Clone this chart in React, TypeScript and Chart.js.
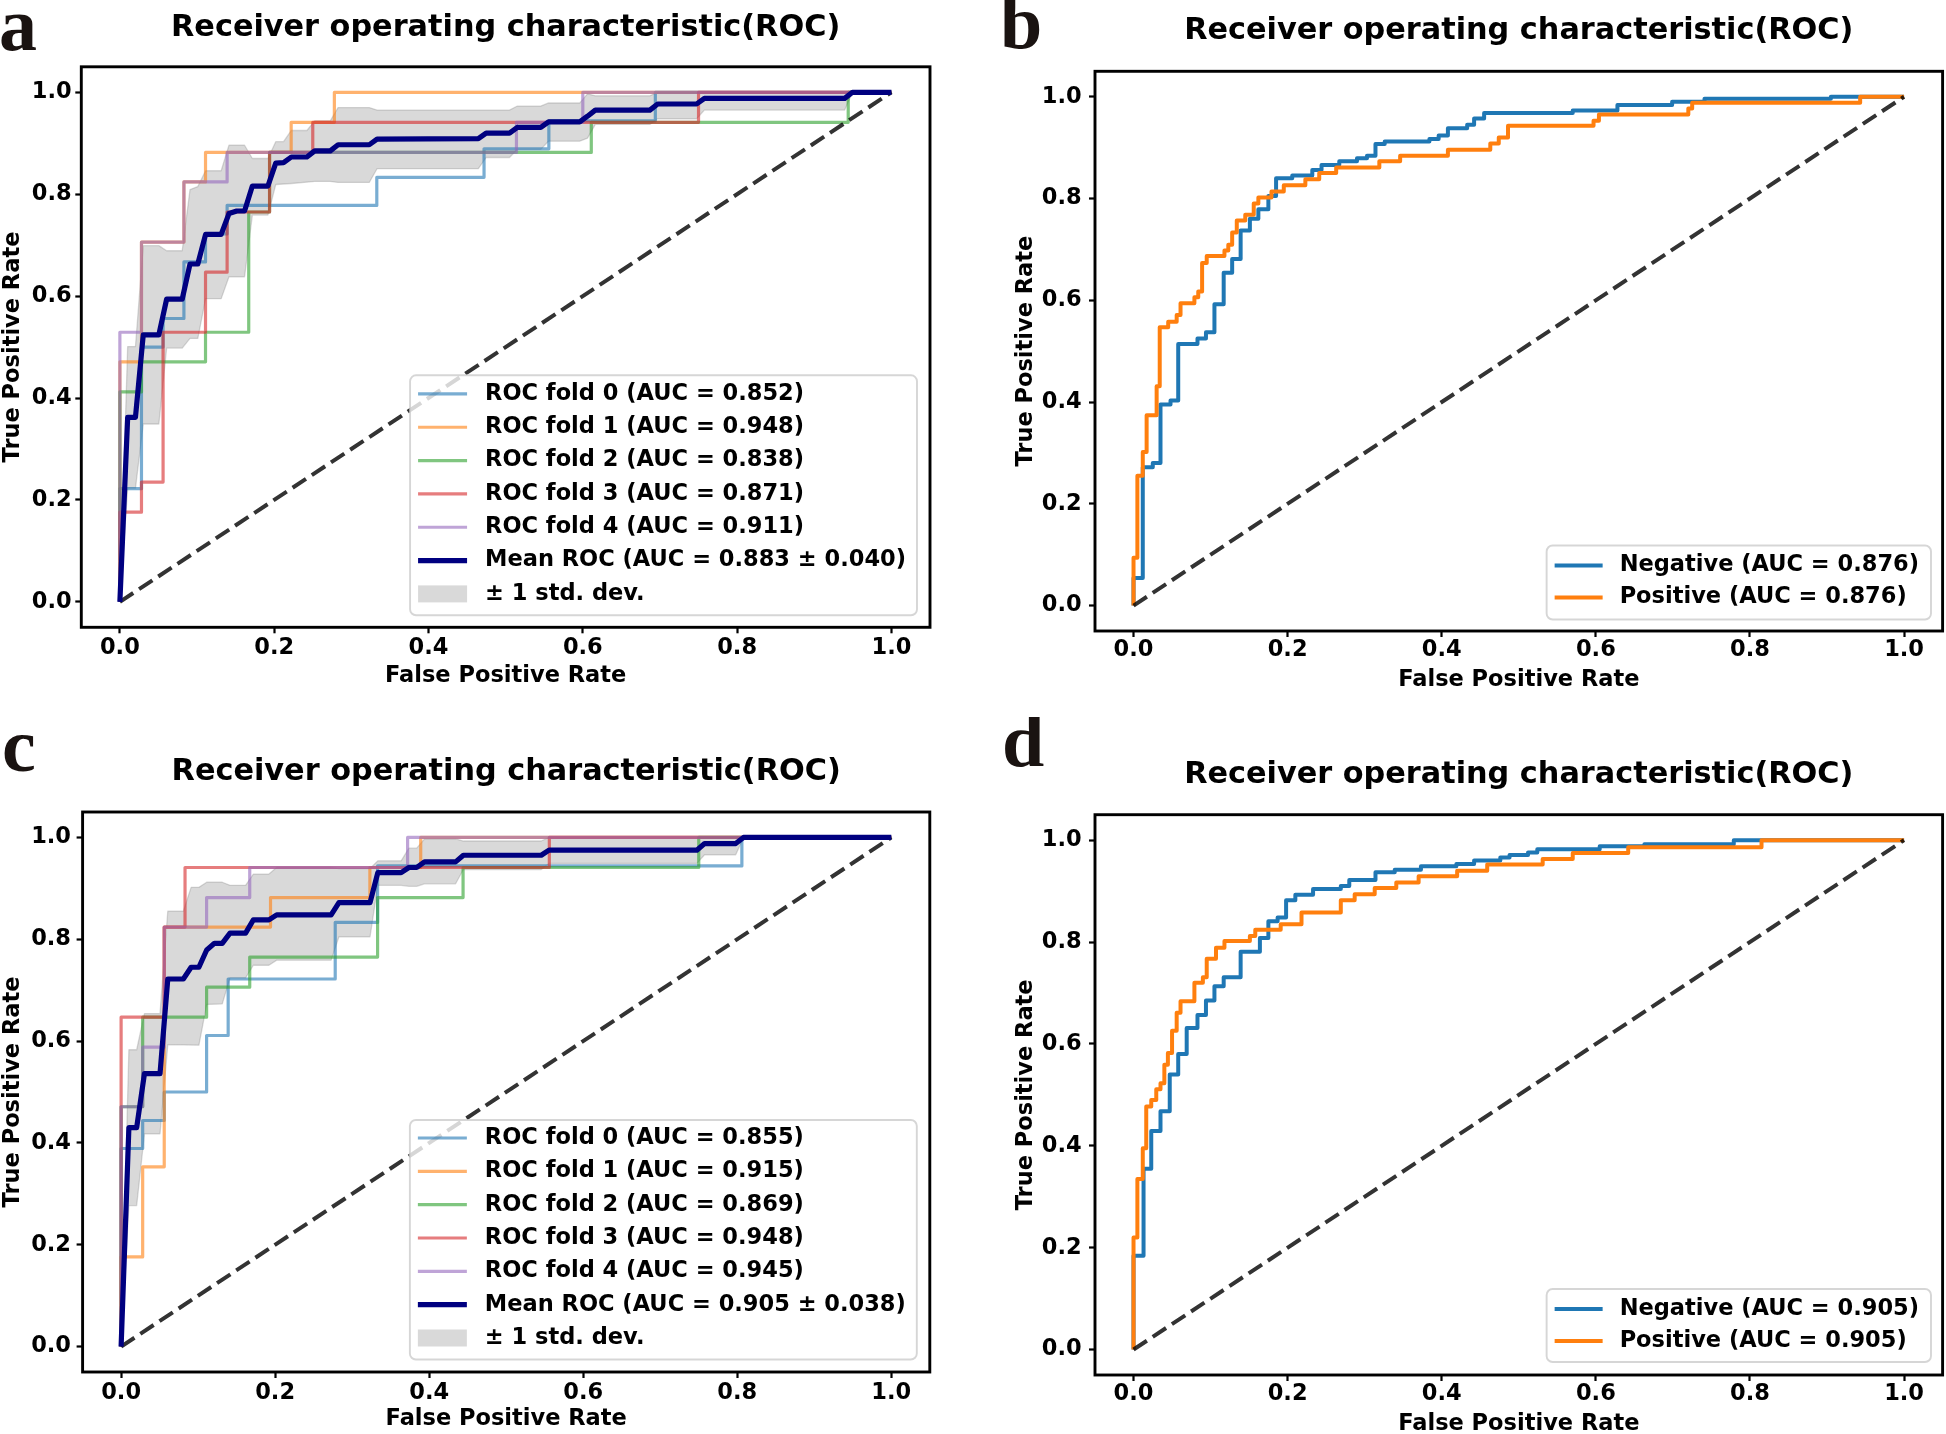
import React, { useEffect, useRef } from 'react';
import { Chart, registerables } from 'chart.js';

Chart.register(...registerables);

// ---------------- text ----------------
const TITLE_TEXT = 'Receiver operating characteristic(ROC)';
const X_AXIS_TITLE = 'False Positive Rate';
const Y_AXIS_TITLE = 'True Positive Rate';
const AXIS_TICKS = [0, 0.2, 0.4, 0.6, 0.8, 1.0];
const STD_LABEL = '± 1 std. dev.';

// ---------------- panel a (cross-validation folds) ----------------
const A_FOLD_LABELS = [
  'ROC fold 0 (AUC = 0.852)',
  'ROC fold 1 (AUC = 0.948)',
  'ROC fold 2 (AUC = 0.838)',
  'ROC fold 3 (AUC = 0.871)',
  'ROC fold 4 (AUC = 0.911)',
];
const A_MEAN_LABEL = 'Mean ROC (AUC = 0.883 ± 0.040)';
// staircase folds: FPR at which TPR steps up, and the TPR reached there
const A_F0_FPR = [0, 0.028, 0.056, 0.083, 0.111, 0.139, 0.333, 0.472, 0.556, 0.694];
const A_F0_TPR = [0.222, 0.5, 0.556, 0.667, 0.722, 0.778, 0.833, 0.889, 0.944, 1];
const A_F1_FPR = [0, 0.028, 0.083, 0.111, 0.222, 0.278];
const A_F1_TPR = [0.471, 0.706, 0.824, 0.882, 0.941, 1];
const A_F2_FPR = [0, 0.028, 0.111, 0.167, 0.194, 0.611, 0.944];
const A_F2_TPR = [0.412, 0.471, 0.529, 0.765, 0.882, 0.941, 1];
const A_F3_FPR = [0, 0.028, 0.056, 0.111, 0.139, 0.194, 0.25, 0.75];
const A_F3_TPR = [0.176, 0.235, 0.529, 0.647, 0.765, 0.882, 0.941, 1];
const A_F4_FPR = [0, 0.028, 0.083, 0.139, 0.514, 0.6];
const A_F4_TPR = [0.529, 0.706, 0.824, 0.882, 0.941, 1];
const A_MEAN_FPR = [0, 0.0101, 0.0202, 0.0303, 0.0505, 0.0606, 0.0808, 0.0909, 0.101, 0.1111, 0.1313, 0.1414, 0.1515, 0.1616, 0.1717, 0.1919, 0.202, 0.2121, 0.2222, 0.2424, 0.2525, 0.2727, 0.2828, 0.3232, 0.3333, 0.4646, 0.4747, 0.505, 0.5152, 0.5455, 0.5556, 0.596, 0.6061, 0.6162, 0.6869, 0.697, 0.7475, 0.7576, 0.9394, 0.9495, 1];
const A_MEAN_TPR = [0, 0.362, 0.362, 0.524, 0.524, 0.594, 0.594, 0.663, 0.663, 0.721, 0.721, 0.762, 0.767, 0.767, 0.816, 0.816, 0.861, 0.862, 0.873, 0.873, 0.885, 0.885, 0.897, 0.897, 0.908, 0.909, 0.92, 0.92, 0.931, 0.931, 0.942, 0.942, 0.953, 0.965, 0.965, 0.977, 0.977, 0.988, 0.988, 1, 1];
const A_UPPER_FPR = [0, 0.0101, 0.0202, 0.0303, 0.0505, 0.0606, 0.0808, 0.0909, 0.101, 0.1111, 0.1313, 0.1414, 0.1616, 0.1717, 0.1919, 0.202, 0.2121, 0.2222, 0.2424, 0.2525, 0.2727, 0.2828, 0.3232, 0.3333, 0.4646, 0.4747, 0.505, 0.5152, 0.5455, 0.5556, 0.596, 0.6061, 0.6162, 0.6869, 0.697, 1];
const A_UPPER_TPR = [0, 0.501, 0.501, 0.699, 0.699, 0.689, 0.689, 0.809, 0.815, 0.846, 0.846, 0.896, 0.896, 0.87, 0.87, 0.903, 0.903, 0.925, 0.925, 0.944, 0.944, 0.97, 0.97, 0.965, 0.965, 0.965, 0.965, 0.973, 0.973, 0.979, 0.979, 0.997, 0.993, 0.993, 1, 1];
const A_LOWER_FPR = [0, 0.0101, 0.0202, 0.0303, 0.0505, 0.0606, 0.0808, 0.0909, 0.101, 0.1111, 0.1313, 0.1414, 0.1616, 0.1717, 0.1919, 0.202, 0.2222, 0.2525, 0.2727, 0.2828, 0.3232, 0.3333, 0.4646, 0.4747, 0.505, 0.5152, 0.5455, 0.5556, 0.596, 0.6061, 0.6162, 0.6869, 0.697, 0.7475, 0.7576, 0.9394, 0.9495, 1];
const A_LOWER_TPR = [0, 0.223, 0.223, 0.349, 0.349, 0.498, 0.498, 0.517, 0.517, 0.595, 0.595, 0.638, 0.638, 0.759, 0.759, 0.819, 0.821, 0.825, 0.825, 0.823, 0.823, 0.85, 0.85, 0.872, 0.872, 0.888, 0.888, 0.904, 0.904, 0.91, 0.937, 0.937, 0.948, 0.948, 0.965, 0.965, 1, 1];

// ---------------- panel b ----------------
const B_NEG_LABEL = 'Negative (AUC = 0.876)';
const B_POS_LABEL = 'Positive (AUC = 0.876)';
const B_NEG_FPR = [0, 0.012, 0.025, 0.035, 0.048, 0.058, 0.083, 0.094, 0.105, 0.117, 0.128, 0.139, 0.151, 0.162, 0.175, 0.185, 0.206, 0.232, 0.244, 0.267, 0.29, 0.303, 0.314, 0.326, 0.384, 0.396, 0.408, 0.433, 0.442, 0.455, 0.57, 0.628, 0.699, 0.741, 0.905];
const B_NEG_TPR = [0.054, 0.272, 0.28, 0.395, 0.403, 0.514, 0.525, 0.537, 0.592, 0.654, 0.681, 0.737, 0.76, 0.779, 0.805, 0.84, 0.845, 0.856, 0.866, 0.873, 0.879, 0.884, 0.907, 0.912, 0.917, 0.924, 0.938, 0.945, 0.957, 0.968, 0.973, 0.984, 0.99, 0.996, 1];
const B_POS_FPR = [0, 0.005, 0.012, 0.017, 0.03, 0.034, 0.045, 0.056, 0.061, 0.079, 0.084, 0.089, 0.095, 0.118, 0.123, 0.128, 0.134, 0.145, 0.156, 0.162, 0.179, 0.195, 0.223, 0.241, 0.263, 0.319, 0.346, 0.408, 0.463, 0.474, 0.486, 0.597, 0.604, 0.72, 0.725, 0.943];
const B_POS_TPR = [0.094, 0.255, 0.302, 0.374, 0.431, 0.547, 0.558, 0.571, 0.594, 0.606, 0.617, 0.673, 0.687, 0.698, 0.709, 0.733, 0.757, 0.768, 0.79, 0.802, 0.814, 0.826, 0.838, 0.85, 0.861, 0.873, 0.884, 0.896, 0.908, 0.92, 0.943, 0.953, 0.965, 0.977, 0.988, 1];

// ---------------- panel c (cross-validation folds) ----------------
const C_FOLD_LABELS = [
  'ROC fold 0 (AUC = 0.855)',
  'ROC fold 1 (AUC = 0.915)',
  'ROC fold 2 (AUC = 0.869)',
  'ROC fold 3 (AUC = 0.948)',
  'ROC fold 4 (AUC = 0.945)',
];
const C_MEAN_LABEL = 'Mean ROC (AUC = 0.905 ± 0.038)';
const C_F0_FPR = [0, 0.028, 0.056, 0.111, 0.139, 0.278, 0.333, 0.806];
const C_F0_TPR = [0.389, 0.444, 0.5, 0.611, 0.722, 0.833, 0.944, 1];
const C_F1_FPR = [0, 0.028, 0.056, 0.194, 0.323, 0.389];
const C_F1_TPR = [0.176, 0.353, 0.824, 0.882, 0.941, 1];
const C_F2_FPR = [0, 0.028, 0.111, 0.167, 0.333, 0.444, 0.75];
const C_F2_TPR = [0.471, 0.647, 0.706, 0.765, 0.882, 0.941, 1];
const C_F3_FPR = [0, 0.056, 0.083, 0.556];
const C_F3_TPR = [0.647, 0.824, 0.941, 1];
const C_F4_FPR = [0, 0.028, 0.056, 0.111, 0.167, 0.372];
const C_F4_TPR = [0.471, 0.588, 0.824, 0.882, 0.941, 1];
const C_MEAN_FPR = [0, 0.0101, 0.0202, 0.0303, 0.0505, 0.0606, 0.0808, 0.0909, 0.101, 0.1111, 0.1212, 0.1313, 0.1414, 0.1616, 0.1717, 0.1919, 0.202, 0.2727, 0.2828, 0.3232, 0.3333, 0.3636, 0.3737, 0.3838, 0.3939, 0.4343, 0.4444, 0.5455, 0.5556, 0.7475, 0.7576, 0.798, 0.8081, 1];
const C_MEAN_TPR = [0, 0.43, 0.43, 0.536, 0.536, 0.722, 0.722, 0.745, 0.745, 0.779, 0.792, 0.792, 0.812, 0.812, 0.838, 0.838, 0.848, 0.848, 0.872, 0.872, 0.931, 0.931, 0.941, 0.941, 0.952, 0.952, 0.965, 0.965, 0.975, 0.975, 0.988, 0.988, 1, 1];
const C_UPPER_FPR = [0, 0.0101, 0.0202, 0.0303, 0.0505, 0.0606, 0.0808, 0.0909, 0.101, 0.1111, 0.1313, 0.1414, 0.1616, 0.1717, 0.1919, 0.202, 0.2727, 0.2828, 0.3232, 0.3333, 0.3636, 0.3737, 0.3838, 0.3939, 0.4343, 0.4444, 0.5455, 0.5556, 1];
const C_UPPER_TPR = [0, 0.583, 0.583, 0.654, 0.654, 0.855, 0.855, 0.902, 0.902, 0.912, 0.912, 0.906, 0.906, 0.928, 0.928, 0.941, 0.941, 0.939, 0.939, 0.954, 0.954, 0.979, 0.979, 0.997, 0.997, 0.993, 0.993, 1, 1];
const C_LOWER_FPR = [0, 0.0101, 0.0202, 0.0303, 0.0505, 0.0606, 0.101, 0.1111, 0.1313, 0.1414, 0.1616, 0.1717, 0.1919, 0.202, 0.2727, 0.2828, 0.3232, 0.3333, 0.3636, 0.3737, 0.3838, 0.3939, 0.4343, 0.4444, 0.5455, 0.5556, 0.7475, 0.7576, 0.798, 0.8081, 1];
const C_LOWER_TPR = [0, 0.277, 0.277, 0.418, 0.418, 0.593, 0.592, 0.672, 0.673, 0.724, 0.724, 0.749, 0.749, 0.759, 0.759, 0.805, 0.805, 0.906, 0.906, 0.904, 0.904, 0.909, 0.909, 0.937, 0.937, 0.949, 0.949, 0.966, 0.966, 1, 1];

// ---------------- panel d ----------------
const D_NEG_LABEL = 'Negative (AUC = 0.905)';
const D_POS_LABEL = 'Positive (AUC = 0.905)';
const D_NEG_FPR = [0, 0.013, 0.023, 0.035, 0.047, 0.058, 0.069, 0.083, 0.094, 0.105, 0.117, 0.139, 0.164, 0.175, 0.187, 0.198, 0.21, 0.233, 0.269, 0.28, 0.314, 0.339, 0.373, 0.419, 0.442, 0.476, 0.488, 0.512, 0.524, 0.605, 0.663, 0.779];
const D_NEG_TPR = [0.184, 0.355, 0.429, 0.468, 0.54, 0.58, 0.631, 0.657, 0.685, 0.713, 0.731, 0.781, 0.808, 0.841, 0.848, 0.882, 0.893, 0.904, 0.91, 0.922, 0.937, 0.942, 0.949, 0.953, 0.96, 0.966, 0.971, 0.976, 0.982, 0.988, 0.992, 1];
const D_POS_FPR = [0, 0.005, 0.012, 0.0165, 0.023, 0.0295, 0.035, 0.04, 0.0446, 0.05, 0.056, 0.061, 0.079, 0.09, 0.095, 0.107, 0.118, 0.151, 0.158, 0.191, 0.218, 0.269, 0.287, 0.313, 0.341, 0.37, 0.42, 0.459, 0.531, 0.57, 0.642, 0.815];
const D_POS_TPR = [0.22, 0.335, 0.395, 0.477, 0.49, 0.511, 0.523, 0.559, 0.582, 0.626, 0.661, 0.684, 0.72, 0.731, 0.767, 0.789, 0.802, 0.812, 0.824, 0.835, 0.858, 0.882, 0.894, 0.906, 0.917, 0.929, 0.94, 0.952, 0.963, 0.975, 0.986, 1];

const CHANCE_FPR = [0, 1];
const CHANCE_TPR = [0, 1];

// ---------------- styles ----------------
const FAMILY = '"DejaVu Sans", "Liberation Sans", sans-serif';
const FS = 22.5;
const FOLD_COLORS = ['rgba(31,119,180,0.6)', 'rgba(255,127,14,0.6)', 'rgba(44,160,44,0.6)', 'rgba(214,39,40,0.6)', 'rgba(148,103,189,0.6)'];
const MEAN_COLOR = '#000080';
const BAND_COLOR = 'rgba(128,128,128,0.3)';
const CHANCE_COLOR = 'rgba(0,0,0,0.8)';
const NEG_COLOR = '#1f77b4';
const POS_COLOR = '#ff7f0e';
const FOLD_W = 3.2;
const MEAN_W = 5.2;
const BIN_W = 4;
const PANEL_W = 973;
const PANEL_H = 717;

type Pt = { x: number; y: number };

function stairs(xs: number[], ys: number[]): Pt[] {
  const pts: Pt[] = [{ x: 0, y: 0 }];
  let prev = 0;
  xs.forEach((x, i) => {
    pts.push({ x, y: prev });
    pts.push({ x, y: ys[i] });
    prev = ys[i];
  });
  pts.push({ x: 1, y: prev });
  return pts;
}
function polyline(xs: number[], ys: number[]): Pt[] {
  return xs.map((x, i) => ({ x, y: ys[i] }));
}

const lineBase = { pointRadius: 0, pointHoverRadius: 0, fill: false, tension: 0, borderJoinStyle: 'round', borderCapStyle: 'butt' };

function chanceDataset(order: number) {
  return { ...lineBase, label: 'chance', data: polyline(CHANCE_FPR, CHANCE_TPR), borderColor: CHANCE_COLOR, borderWidth: 4, borderDash: [16, 7], order };
}

function cvDatasets(folds: [number[], number[]][], labels: string[], mean: [number[], number[]], upper: [number[], number[]], lower: [number[], number[]], meanLabel: string) {
  const ds: any[] = [];
  ds.push({ ...lineBase, label: 'std-upper', data: polyline(upper[0], upper[1]), borderColor: BAND_COLOR, borderWidth: 1.3, backgroundColor: BAND_COLOR, fill: '+1', order: 30 });
  ds.push({ ...lineBase, label: 'std-lower', data: polyline(lower[0], lower[1]), borderColor: BAND_COLOR, borderWidth: 1.3, order: 31 });
  folds.forEach((f, i) => {
    ds.push({ ...lineBase, label: labels[i], data: stairs(f[0], f[1]), borderColor: FOLD_COLORS[i], borderWidth: FOLD_W, order: 20 - i });
  });
  ds.push(chanceDataset(5));
  ds.push({ ...lineBase, label: meanLabel, data: polyline(mean[0], mean[1]), borderColor: MEAN_COLOR, borderWidth: MEAN_W, order: 1 });
  const legendItems = [
    ...labels.map((l, i) => ({ label: l, kind: 'line', color: FOLD_COLORS[i], width: FOLD_W })),
    { label: meanLabel, kind: 'line', color: MEAN_COLOR, width: MEAN_W },
    { label: STD_LABEL, kind: 'patch', color: BAND_COLOR, width: 0 },
  ];
  return { ds, legendItems };
}

function binDatasets(negF: number[], negT: number[], posF: number[], posT: number[], negLabel: string, posLabel: string) {
  const ds: any[] = [
    { ...lineBase, label: negLabel, data: stairs(negF, negT), borderColor: NEG_COLOR, borderWidth: BIN_W, order: 3 },
    { ...lineBase, label: posLabel, data: stairs(posF, posT), borderColor: POS_COLOR, borderWidth: BIN_W, order: 2 },
    chanceDataset(1),
  ];
  const legendItems = [
    { label: negLabel, kind: 'line', color: NEG_COLOR, width: BIN_W },
    { label: posLabel, kind: 'line', color: POS_COLOR, width: BIN_W },
  ];
  return { ds, legendItems };
}

const A_SET = cvDatasets(
  [[A_F0_FPR, A_F0_TPR], [A_F1_FPR, A_F1_TPR], [A_F2_FPR, A_F2_TPR], [A_F3_FPR, A_F3_TPR], [A_F4_FPR, A_F4_TPR]],
  A_FOLD_LABELS, [A_MEAN_FPR, A_MEAN_TPR], [A_UPPER_FPR, A_UPPER_TPR], [A_LOWER_FPR, A_LOWER_TPR], A_MEAN_LABEL);
const C_SET = cvDatasets(
  [[C_F0_FPR, C_F0_TPR], [C_F1_FPR, C_F1_TPR], [C_F2_FPR, C_F2_TPR], [C_F3_FPR, C_F3_TPR], [C_F4_FPR, C_F4_TPR]],
  C_FOLD_LABELS, [C_MEAN_FPR, C_MEAN_TPR], [C_UPPER_FPR, C_UPPER_TPR], [C_LOWER_FPR, C_LOWER_TPR], C_MEAN_LABEL);
const B_SET = binDatasets(B_NEG_FPR, B_NEG_TPR, B_POS_FPR, B_POS_TPR, B_NEG_LABEL, B_POS_LABEL);
const D_SET = binDatasets(D_NEG_FPR, D_NEG_TPR, D_POS_FPR, D_POS_TPR, D_NEG_LABEL, D_POS_LABEL);

const CV_LEGEND = { rightGap: 13, bottomGap: 12, padTop: 18.6, padBottom: 21.4, rowH: 33.33, hx0: 8, hx1: 57, textX: 75, padRight: 11 };
const BIN_LEGEND = { rightGap: 11.6, bottomGap: 11.5, padTop: 20, padBottom: 22, rowH: 32, hx0: 8, hx1: 56, textX: 73, padRight: 12 };

const PANELS: any[] = [
  { letter: 'a', left: 0, top: 0, chartLeft: 81.3, chartRight: 930, chartTop: 66.5, chartBottom: 627.3, titleCY: 27.7, xTitleCY: 676.3, yTitleCX: 13.5, xTickPad: 3.6, yTickPad: 3.6, letterX: -1, letterY: 50, set: A_SET, legend: CV_LEGEND },
  { letter: 'b', left: 973, top: 0, chartLeft: 122, chartRight: 969.6, chartTop: 71, chartBottom: 631, titleCY: 31.3, xTitleCY: 679.8, yTitleCX: 52.8, xTickPad: 1.9, yTickPad: 7.3, letterX: 27, letterY: 48, set: B_SET, legend: BIN_LEGEND },
  { letter: 'c', left: 0, top: 717, chartLeft: 82.6, chartRight: 929.8, chartTop: 94.7, chartBottom: 655, titleCY: 54.9, xTitleCY: 702.5, yTitleCX: 13.4, xTickPad: 3.5, yTickPad: 5.6, letterX: 2, letterY: 54, set: C_SET, legend: { ...CV_LEGEND, padTop: 18, padBottom: 21.5, bottomGap: 12.5 } },
  { letter: 'd', left: 973, top: 717, chartLeft: 122, chartRight: 969.6, chartTop: 97.4, chartBottom: 658, titleCY: 57.6, xTitleCY: 707.5, yTitleCX: 53.4, xTickPad: 2.4, yTickPad: 7.3, letterX: 29, letterY: 49, set: D_SET, legend: { ...BIN_LEGEND, bottomGap: 13, padBottom: 21 } },
];

const framePlugin = {
  id: 'frameBox',
  afterDatasetsDraw(chart: any) {
    const { ctx, chartArea: a } = chart;
    ctx.save();
    ctx.strokeStyle = '#000';
    ctx.lineWidth = 2.9;
    ctx.strokeRect(a.left, a.top, a.right - a.left, a.bottom - a.top);
    ctx.restore();
  },
};

function makeLegendPlugin(p: any) {
  return {
    id: 'rocLegend',
    afterDatasetsDraw(chart: any) {
      const { ctx, chartArea } = chart;
      const L = p.legend;
      const items = p.set.legendItems;
      ctx.save();
      ctx.font = `bold ${FS}px ${FAMILY}`;
      const maxW = Math.max(...items.map((it: any) => ctx.measureText(it.label).width));
      const w = L.textX + maxW + L.padRight;
      const h = L.padTop + L.rowH * (items.length - 1) + L.padBottom;
      const x0 = chartArea.right - L.rightGap - w;
      const y0 = chartArea.bottom - L.bottomGap - h;
      ctx.beginPath();
      if (ctx.roundRect) ctx.roundRect(x0, y0, w, h, 6);
      else ctx.rect(x0, y0, w, h);
      ctx.fillStyle = 'rgba(255,255,255,0.8)';
      ctx.fill();
      ctx.lineWidth = 1.9;
      ctx.strokeStyle = 'rgba(204,204,204,0.8)';
      ctx.stroke();
      items.forEach((it: any, i: number) => {
        const cy = y0 + L.padTop + i * L.rowH;
        if (it.kind === 'patch') {
          ctx.fillStyle = it.color;
          ctx.fillRect(x0 + L.hx0, cy - 8.5, L.hx1 - L.hx0, 17);
        } else {
          ctx.beginPath();
          ctx.strokeStyle = it.color;
          ctx.lineWidth = it.width;
          ctx.lineCap = 'butt';
          ctx.moveTo(x0 + L.hx0, cy);
          ctx.lineTo(x0 + L.hx1, cy);
          ctx.stroke();
        }
        ctx.fillStyle = '#000';
        ctx.textAlign = 'left';
        ctx.textBaseline = 'middle';
        ctx.fillText(it.label, x0 + L.textX, cy);
      });
      ctx.restore();
    },
  };
}

function makeLetterPlugin(p: any) {
  return {
    id: 'panelLetter',
    afterDraw(chart: any) {
      const { ctx } = chart;
      ctx.save();
      ctx.font = 'bold 76px "Liberation Serif", "DejaVu Serif", serif';
      ctx.fillStyle = '#1a1311';
      ctx.textAlign = 'left';
      ctx.textBaseline = 'alphabetic';
      ctx.fillText(p.letter, p.letterX, p.letterY);
      ctx.restore();
    },
  };
}

function makeChart(canvas: HTMLCanvasElement, p: any) {
  const font = { family: FAMILY, size: FS, weight: 'bold', lineHeight: 1 };
  const titlePadTop = p.titleCY - 15;
  const titlePadBottom = p.chartTop - titlePadTop - 30;
  const setTicks = (s: any) => {
    s.ticks = AXIS_TICKS.map((v) => ({ value: v }));
  };
  const grid = { drawOnChartArea: false, drawTicks: true, tickLength: 6, tickWidth: 2.2, tickColor: '#000', color: '#000' };
  return new Chart(canvas, {
    type: 'line',
    data: { datasets: p.set.ds },
    options: {
      animation: false,
      responsive: false,
      maintainAspectRatio: false,
      devicePixelRatio: 1,
      events: [],
      layout: { padding: { left: 0, top: 0, right: PANEL_W - p.chartRight, bottom: 0 } },
      plugins: {
        legend: { display: false },
        tooltip: { enabled: false },
        title: {
          display: true,
          text: TITLE_TEXT,
          fullSize: false,
          color: '#000',
          font: { family: FAMILY, size: 30.3, weight: 'bold', lineHeight: 1 },
          padding: { top: titlePadTop, bottom: titlePadBottom },
        },
      },
      scales: {
        x: {
          type: 'linear',
          min: -0.05,
          max: 1.05,
          afterBuildTicks: setTicks,
          afterFit: (s: any) => {
            s.height = PANEL_H - p.chartBottom;
          },
          ticks: { callback: (v: any) => Number(v).toFixed(1), color: '#000', font, padding: p.xTickPad, maxRotation: 0, minRotation: 0, autoSkip: false },
          grid,
          border: { display: false },
          title: { display: true, text: X_AXIS_TITLE, color: '#000', font, padding: { top: 0, bottom: PANEL_H - p.xTitleCY - FS / 2 } },
        },
        y: {
          type: 'linear',
          min: -0.05,
          max: 1.05,
          afterBuildTicks: setTicks,
          afterFit: (s: any) => {
            s.width = p.chartLeft;
          },
          ticks: { callback: (v: any) => Number(v).toFixed(1), color: '#000', font, padding: p.yTickPad, autoSkip: false },
          grid,
          border: { display: false },
          title: { display: true, text: Y_AXIS_TITLE, color: '#000', font, padding: { top: Math.max(0, p.yTitleCX - FS / 2), bottom: 0 } },
        },
      },
    } as any,
    plugins: [framePlugin, makeLegendPlugin(p), makeLetterPlugin(p)],
  });
}

export default function App() {
  const refs = [useRef<HTMLCanvasElement>(null), useRef<HTMLCanvasElement>(null), useRef<HTMLCanvasElement>(null), useRef<HTMLCanvasElement>(null)];
  useEffect(() => {
    const charts = PANELS.map((p, i) => makeChart(refs[i].current as HTMLCanvasElement, p));
    return () => charts.forEach((c) => c.destroy());
  }, []);
  return (
    <div style={{ position: 'absolute', left: 0, top: 0, width: 1946, height: 1434, background: '#fff', overflow: 'hidden' }}>
      {PANELS.map((p, i) => (
        <canvas
          key={p.letter}
          ref={refs[i]}
          width={PANEL_W}
          height={PANEL_H}
          style={{ position: 'absolute', left: p.left, top: p.top, width: PANEL_W, height: PANEL_H }}
        />
      ))}
    </div>
  );
}
